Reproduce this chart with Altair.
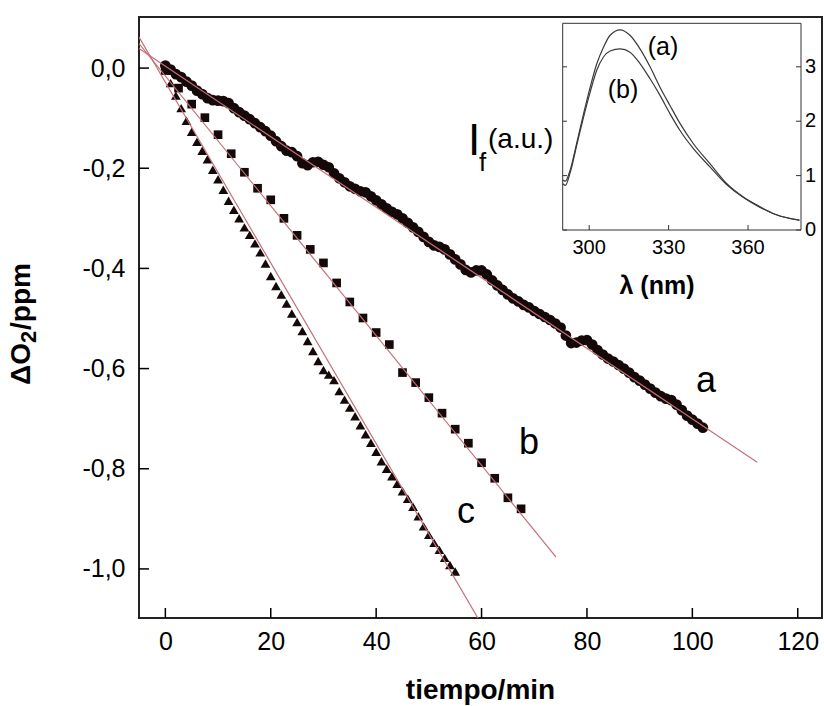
import altair as alt
import pandas as pd

# ---------------- data ----------------
a_t = [0, 1, 2, 3, 4, 5, 6, 7, 8, 9, 10, 11, 12, 13, 14, 15, 16, 17, 18, 19,
       20, 21, 22, 23, 24, 25, 26, 27, 28, 29, 30, 31, 32, 33, 34, 35, 36, 37, 38, 39,
       40, 41, 42, 43, 44, 45, 46, 47, 48, 49, 50, 51, 52, 53, 54, 55, 56, 57, 58, 59,
       60, 61, 62, 63, 64, 65, 66, 67, 68, 69, 70, 71, 72, 73, 74, 75, 76, 77, 78, 79,
       80, 81, 82, 83, 84, 85, 86, 87, 88, 89, 90, 91, 92, 93, 94, 95, 96, 97, 98, 99,
       100, 101, 102]
a_y = [0.005, -0.003, -0.012, -0.018, -0.027, -0.035, -0.045, -0.052, -0.060, -0.064,
       -0.065, -0.066, -0.070, -0.080, -0.088, -0.095, -0.102, -0.110, -0.118, -0.126,
       -0.135, -0.146, -0.156, -0.165, -0.168, -0.176, -0.190, -0.194, -0.188, -0.187,
       -0.193, -0.198, -0.210, -0.220, -0.228, -0.236, -0.241, -0.246, -0.248, -0.256,
       -0.264, -0.272, -0.280, -0.287, -0.292, -0.300, -0.309, -0.318, -0.327, -0.337,
       -0.347, -0.354, -0.357, -0.362, -0.372, -0.382, -0.392, -0.403, -0.408, -0.404,
       -0.404, -0.412, -0.424, -0.434, -0.443, -0.452, -0.460, -0.466, -0.473, -0.478,
       -0.485, -0.491, -0.497, -0.503, -0.510, -0.518, -0.534, -0.549, -0.548, -0.544,
       -0.543, -0.552, -0.563, -0.572, -0.580, -0.586, -0.593, -0.600, -0.608, -0.617,
       -0.624, -0.632, -0.640, -0.648, -0.655, -0.660, -0.663, -0.672, -0.683, -0.694,
       -0.702, -0.710, -0.718]

b_t = [0, 2.5, 5, 7.5, 10, 12.5, 15, 17.5, 20, 22.5, 25, 27.5, 30, 32.5, 35, 37.5,
       40, 42.5, 45, 47.5, 50, 52.5, 55, 57.5, 60, 62.5, 65, 67.5]
b_y = [-0.005, -0.040, -0.072, -0.099, -0.133, -0.171, -0.208, -0.240, -0.263, -0.300,
       -0.334, -0.362, -0.389, -0.429, -0.467, -0.499, -0.528, -0.552, -0.608, -0.628,
       -0.658, -0.689, -0.721, -0.749, -0.788, -0.819, -0.858, -0.880]

c_t = [0, 1, 2, 3, 4, 5, 6, 7, 8, 9, 10, 11, 12, 13, 14, 15, 16, 17, 18, 19,
       20, 21, 22, 23, 24, 25, 26, 27, 28, 29, 30, 31, 32, 33, 34, 35, 36, 37, 38, 39,
       40, 41, 42, 43, 44, 45, 46, 47, 48, 49, 50, 51, 52, 53, 54, 55]
c_y = [0.000, -0.030, -0.055, -0.080, -0.105, -0.127, -0.147, -0.165, -0.182, -0.203,
       -0.222, -0.243, -0.265, -0.283, -0.300, -0.318, -0.333, -0.350, -0.368, -0.390,
       -0.415, -0.435, -0.452, -0.470, -0.490, -0.507, -0.525, -0.545, -0.565, -0.585,
       -0.603, -0.612, -0.623, -0.645, -0.662, -0.678, -0.695, -0.713, -0.731, -0.748,
       -0.766, -0.785, -0.800, -0.815, -0.830, -0.845, -0.860, -0.876, -0.895, -0.915,
       -0.932, -0.948, -0.962, -0.978, -0.992, -1.005]

# fitted straight lines (end points)
fit_a_t = [-5, 112.3]
fit_a_y = [0.039, -0.787]
fit_b_t = [-5, 74.1]
fit_b_y = [0.049, -0.976]
fit_c_t = [-5, 59.3]
fit_c_y = [0.062, -1.098]

series_labels = ["a", "b", "c"]

x_ticks = [0, 20, 40, 60, 80, 100, 120]
y_ticks = [-1.0, -0.8, -0.6, -0.4, -0.2, 0.0]
x_domain = [-5, 124.6]
y_domain = [-1.098, 0.102]

# y-axis title pieces: "ΔO", subscript "2", "/ppm"
y_title_parts = ["ΔO", "2", "/ppm"]

# inset: fluorescence spectra
spec_nm = [290, 291, 292.8, 295.4, 297.9, 300.4, 302.9, 305.4, 307.9, 311.7, 315.4,
           319.2, 323, 326.7, 330.5, 334.3, 339.3, 345.6, 351.8, 358.1, 364.4, 370.7, 379.4]
spec_a = [0.92, 0.90, 1.10, 1.62, 2.14, 2.63, 3.06, 3.36, 3.58, 3.68, 3.58,
          3.33, 3.00, 2.63, 2.29, 1.96, 1.59, 1.22, 0.86, 0.61, 0.43, 0.28, 0.18]
spec_b = [0.85, 0.82, 1.05, 1.58, 2.08, 2.54, 2.94, 3.18, 3.29, 3.33, 3.27,
          3.06, 2.78, 2.48, 2.14, 1.83, 1.50, 1.16, 0.84, 0.60, 0.42, 0.28, 0.18]
spec_labels = ["(a)", "(b)"]
inset_x_ticks = [300, 330, 360]
inset_y_ticks = [0, 1, 2, 3]
inset_x_domain = [290, 380]
inset_y_domain = [0, 3.8]

# ---------------- layout / style ----------------
W, H = 683, 601
FONT = "Liberation Sans"
PT = "#150808"
FITC = "#c46f7a"

xs = alt.Scale(domain=x_domain, nice=False, zero=False)
ys = alt.Scale(domain=y_domain, nice=False, zero=False)

df_a = pd.DataFrame({"x": a_t, "y": a_y})
df_b = pd.DataFrame({"x": b_t, "y": b_y})
df_c = pd.DataFrame({"x": c_t, "y": c_y})

y_label_expr = "(datum.value < 0 ? '-' : '') + replace(format(abs(datum.value), '.1f'), '.', ',')"

pts_a = alt.Chart(df_a).mark_point(shape="circle", filled=True, size=115, color=PT, opacity=1).encode(
    x=alt.X("x:Q", scale=xs, axis=alt.Axis(
        values=x_ticks, title="tiempo/min", labelFontSize=25, labelPadding=11,
        titleFontSize=28, titleFontWeight="bold", titleX=341, titleY=72,
        titleAlign="center", titleBaseline="middle", labelFlush=False)),
    y=alt.Y("y:Q", scale=ys, axis=alt.Axis(
        values=y_ticks, labelExpr=y_label_expr, title=None, labelFontSize=25,
        labelPadding=14)),
)
pts_b = alt.Chart(df_b).mark_point(shape="square", filled=True, size=75, color=PT, opacity=1).encode(
    x=alt.X("x:Q", scale=xs), y=alt.Y("y:Q", scale=ys))
pts_c = alt.Chart(df_c).mark_point(shape="triangle-up", filled=True, size=95, color=PT, opacity=1).encode(
    x=alt.X("x:Q", scale=xs), y=alt.Y("y:Q", scale=ys))


def fit(tt, yy):
    return alt.Chart(pd.DataFrame({"x": tt, "y": yy})).mark_line(
        color=FITC, strokeWidth=1.2, clip=True).encode(
        x=alt.X("x:Q", scale=xs), y=alt.Y("y:Q", scale=ys))


fits = [fit(fit_a_t, fit_a_y), fit(fit_b_t, fit_b_y), fit(fit_c_t, fit_c_y)]

xtick_marks = alt.Chart(pd.DataFrame({"x": x_ticks})).mark_rule(color="black", strokeWidth=1.5).encode(
    x=alt.X("x:Q", scale=xs), y=alt.value(H), y2=alt.value(H - 10))
ytick_marks = alt.Chart(pd.DataFrame({"y": y_ticks})).mark_rule(color="black", strokeWidth=1.5).encode(
    y=alt.Y("y:Q", scale=ys), x=alt.value(0), x2=alt.value(10))

label_pos = {"a": (567, 364), "b": (390, 426), "c": (327, 495)}
series_text = []
for lab in series_labels:
    px, py = label_pos[lab]
    series_text.append(
        alt.Chart(pd.DataFrame({"t": [lab]})).mark_text(
            font=FONT, fontSize=36, color="black", align="center", baseline="middle").encode(
            text="t:N", x=alt.value(px), y=alt.value(py)))

# rotated y-axis title with a real subscript
yt_style = {
    "ΔO": dict(fs=28, dx=-117, dy=326, align="right"),
    "2": dict(fs=22, dx=-110, dy=326, align="left"),
    "/ppm": dict(fs=28, dx=-117, dy=313, align="left"),
}
y_title_marks = []
for part in y_title_parts:
    st = yt_style[part]
    y_title_marks.append(
        alt.Chart(pd.DataFrame({"t": [part]})).mark_text(
            font=FONT, fontSize=st["fs"], fontWeight="bold", color="black", angle=270,
            align=st["align"], baseline="middle").encode(
            text="t:N", x=alt.value(st["dx"]), y=alt.value(st["dy"])))

main = alt.layer(pts_a, pts_b, pts_c, *fits, xtick_marks, ytick_marks, *series_text, *y_title_marks)

# ---------------- inset ----------------
isx = alt.Scale(domain=inset_x_domain, range=[423.7, 662], nice=False, zero=False)
isy = alt.Scale(domain=inset_y_domain, range=[213, 6.3], nice=False, zero=False)

frame = alt.Chart(pd.DataFrame({"x": [inset_x_domain[0]], "x2": [inset_x_domain[1]],
                                "y": [inset_y_domain[0]], "y2": [inset_y_domain[1]]})).mark_rect(
    fill="white", stroke="#333333", strokeWidth=1).encode(
    x=alt.X("x:Q", scale=isx, axis=None), x2="x2:Q",
    y=alt.Y("y:Q", scale=isy, axis=None), y2="y2:Q")

spec_df = pd.DataFrame({"x": spec_nm * 2, "y": spec_a + spec_b,
                        "s": [spec_labels[0]] * len(spec_nm) + [spec_labels[1]] * len(spec_nm)})
spectra = alt.Chart(spec_df).mark_line(color="#3a3a3a", strokeWidth=1.2, interpolate="monotone").encode(
    x=alt.X("x:Q", scale=isx, axis=None), y=alt.Y("y:Q", scale=isy, axis=None), detail="s:N")

ix_ticks = alt.Chart(pd.DataFrame({"x": inset_x_ticks})).mark_rule(color="#333333", strokeWidth=1).encode(
    x=alt.X("x:Q", scale=isx, axis=None), y=alt.value(213), y2=alt.value(208))
iy_ticks_r = alt.Chart(pd.DataFrame({"y": inset_y_ticks})).mark_rule(color="#333333", strokeWidth=1).encode(
    y=alt.Y("y:Q", scale=isy, axis=None), x=alt.value(662), x2=alt.value(657))
iy_ticks_l = alt.Chart(pd.DataFrame({"y": inset_y_ticks})).mark_rule(color="#333333", strokeWidth=1).encode(
    y=alt.Y("y:Q", scale=isy, axis=None), x=alt.value(423.7), x2=alt.value(428))

ix_labels = alt.Chart(pd.DataFrame({"x": inset_x_ticks})).mark_text(
    font=FONT, fontSize=20, color="black", align="center", baseline="middle").encode(
    x=alt.X("x:Q", scale=isx, axis=None), y=alt.value(231), text="x:Q")
iy_labels = alt.Chart(pd.DataFrame({"y": inset_y_ticks})).mark_text(
    font=FONT, fontSize=20, color="black", align="left", baseline="middle").encode(
    y=alt.Y("y:Q", scale=isy, axis=None), x=alt.value(666), text="y:Q")

spec_label_pos = {"(a)": (524, 30), "(b)": (484, 73)}
spec_text = []
for lab in spec_labels:
    px, py = spec_label_pos[lab]
    spec_text.append(
        alt.Chart(pd.DataFrame({"t": [lab]})).mark_text(
            font=FONT, fontSize=25, color="black", align="center", baseline="middle").encode(
            text="t:N", x=alt.value(px), y=alt.value(py)))

inset_title_parts = [
    ("λ (nm)", 518, 269, 25, "bold", "center", "middle"),
    ("I", 329, 138, 44, "normal", "left", "alphabetic"),
    ("f", 340, 154, 26, "normal", "left", "alphabetic"),
    ("(a.u.)", 349, 131, 28, "normal", "left", "alphabetic"),
]
inset_titles = []
for txt, px, py, fs, fw, al, bl in inset_title_parts:
    inset_titles.append(
        alt.Chart(pd.DataFrame({"t": [txt]})).mark_text(
            font=FONT, fontSize=fs, fontWeight=fw, color="black", align=al, baseline=bl).encode(
            text="t:N", x=alt.value(px), y=alt.value(py)))

inset = alt.layer(frame, spectra, ix_ticks, iy_ticks_r, iy_ticks_l, ix_labels, iy_labels,
                  *spec_text, *inset_titles)

chart = alt.layer(main, inset).resolve_scale(x="independent", y="independent").properties(
    width=W, height=H,
    padding={"left": 139, "top": 17, "right": 2, "bottom": 88},
    autosize=alt.AutoSizeParams(type="none"),
).configure_view(stroke="#222222", strokeWidth=2).configure_axis(
    labelFont=FONT, titleFont=FONT, labelColor="black", titleColor="black",
    domain=False, ticks=False, grid=False)

chart.save("out.html", embed_options={"renderer": "svg", "actions": False})
